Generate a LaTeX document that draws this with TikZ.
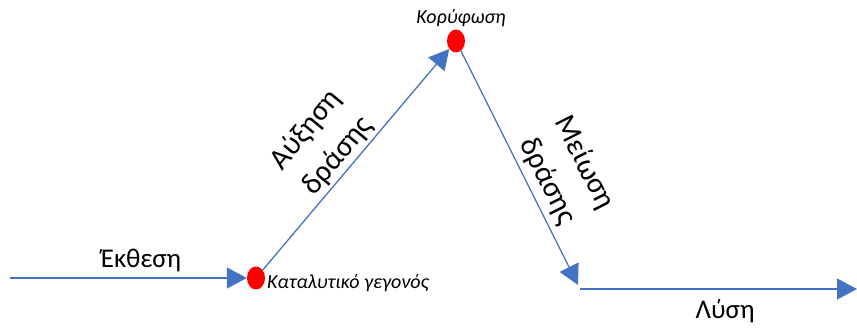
\documentclass[tikz,border=0pt]{standalone}
\usepackage{fontspec}
\setmainfont{Carlito}
\usetikzlibrary{arrows.meta,shapes.geometric}
\definecolor{lineblue}{HTML}{4472C4}
\begin{document}
\begin{tikzpicture}[x=1pt,y=-1pt,
  conn/.style={draw=lineblue,line width=1.3pt,-{Triangle[length=20pt,width=21pt]}},
  dot/.style={ellipse,fill=red,draw=none,minimum width=18pt,minimum height=23pt,inner sep=0pt},
  biglabel/.style={font=\fontsize{27}{38}\selectfont,align=center,inner sep=0pt},
  rotlabel/.style={font=\fontsize{30}{41}\selectfont,align=center,inner sep=0pt},
  smalllabel/.style={font=\fontsize{20}{22}\selectfont\itshape,inner sep=0pt}]
\useasboundingbox (0,0) rectangle (857,328);
\node[dot] (d1) at (256,278) {};
\node[dot] (d2) at (456,41) {};
\coordinate (s1) at (10,278);
\coordinate (e3) at (578,285);
\coordinate (s4) at (580,289);
\coordinate (e4) at (857,289);
\draw[conn] (s1) -- (d1.west);
\draw[conn] (d1) -- (d2);
\draw[conn] (d2) -- (e3);
\draw[conn] (s4) -- (e4);
\node[biglabel] (l1) at (141,260) {Έκθεση};
\node[rotlabel,rotate=50.5] (l2) at (322,143) {Αύξηση\\δράσης};
\node[rotlabel,rotate=-63.3] (l3) at (566,172) {Μείωση\\δράσης};
\node[biglabel] (l4) at (725,311) {Λύση};
\node[smalllabel,anchor=west] (t1) at (267,283) {Καταλυτικό γεγονός};
\node[smalllabel] (t2) at (461,18) {Κορύφωση};
\end{tikzpicture}
\end{document}
